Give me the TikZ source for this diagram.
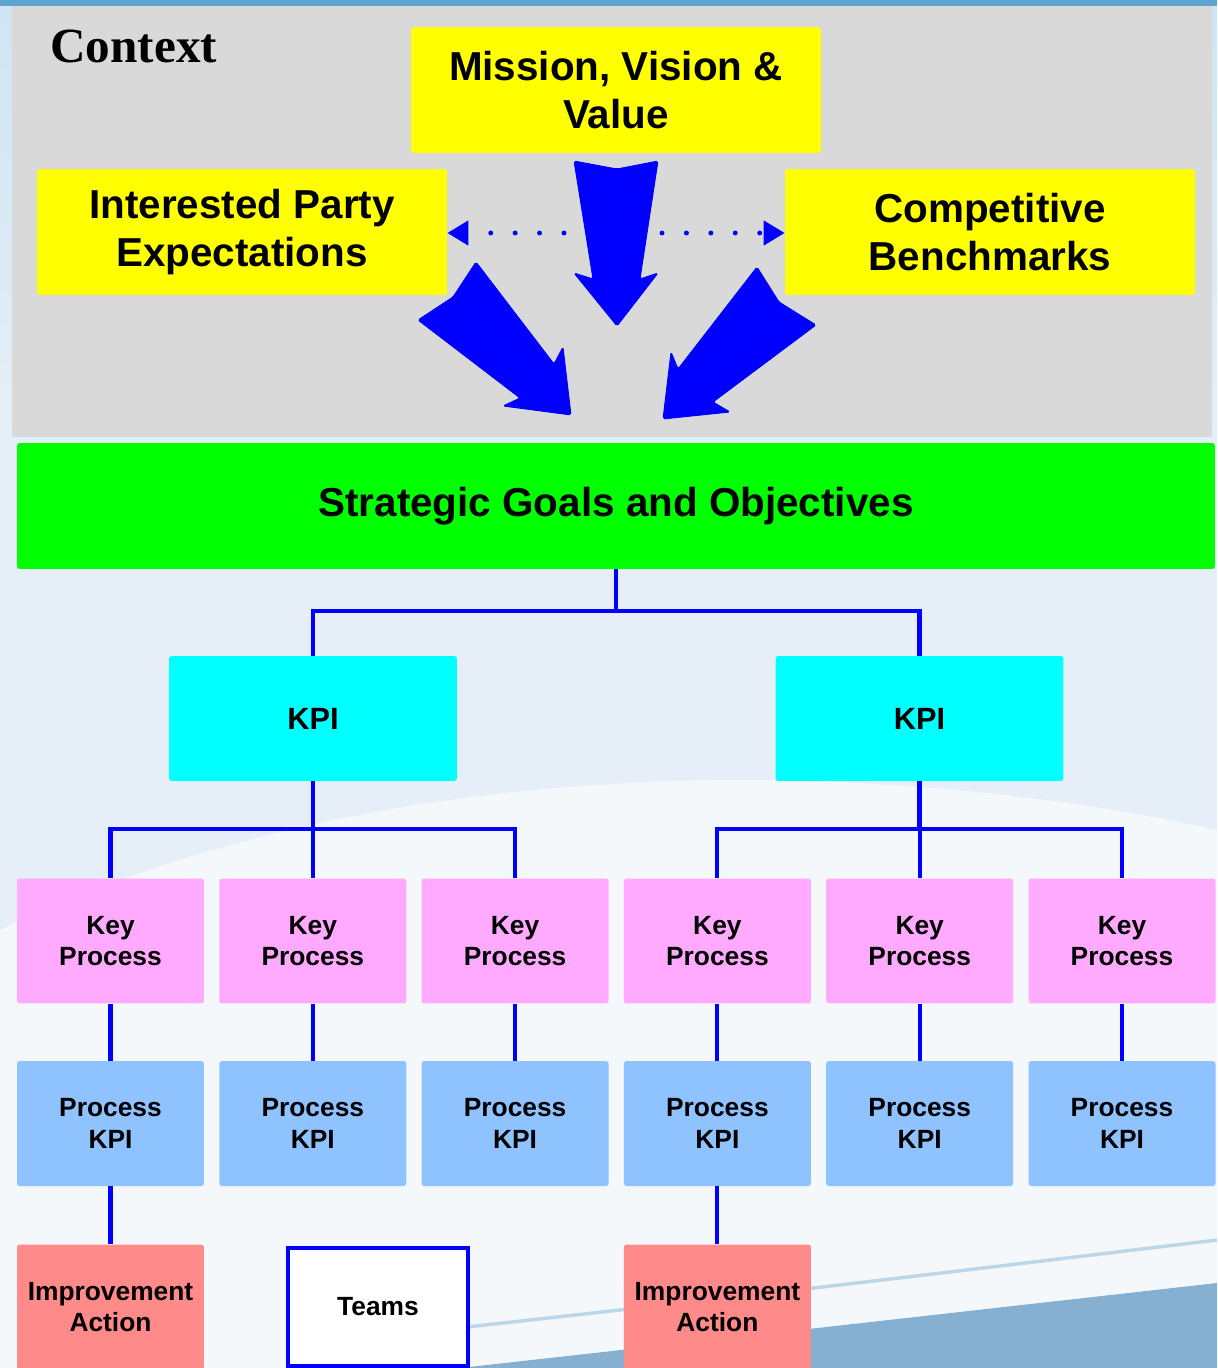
\documentclass[tikz,border=0pt]{standalone}
\usepackage{fontspec}
\setmainfont{Liberation Sans}
\newfontfamily\ctxfont{Liberation Serif}
\usetikzlibrary{calc}
\usetikzlibrary{arrows.meta}

\definecolor{skyback}{HTML}{E6EFF7}
\definecolor{skyleft}{HTML}{CFE5F4}
\definecolor{skytop}{HTML}{5DA4D0}
\definecolor{swoosh}{HTML}{86B0D2}
\definecolor{streak}{HTML}{BCD7E8}
\definecolor{ctxgrey}{HTML}{D9D9D9}
\definecolor{boxyellow}{HTML}{FFFF00}
\definecolor{boxgreen}{HTML}{00FF00}
\definecolor{boxcyan}{HTML}{00FFFF}
\definecolor{boxpink}{HTML}{FFAAFF}
\definecolor{boxsky}{HTML}{8FC3FF}
\definecolor{boxsalmon}{HTML}{FF8A8A}

\begin{document}
\begin{tikzpicture}[x=0.02cm, y=-0.02cm,
  box/.style={rounded corners=1.5pt, inner sep=0pt, align=center, font=\bfseries\fontsize{15}{18}\selectfont},
  bigbox/.style={box, minimum width=8.2cm, minimum height=2.52cm, font=\bfseries\fontsize{23}{27.5}\selectfont},
  kpibox/.style={box, fill=boxcyan, minimum width=5.76cm, minimum height=2.5cm, font=\bfseries\fontsize{17.5}{21}\selectfont},
  smallbox/.style={box, minimum width=3.74cm, minimum height=2.5cm},
  link/.style={blue, line width=2.3pt},
  bigarrow/.style={fill=blue, draw=blue, line width=.5pt, rounded corners=1pt},
  dots/.style={blue, line width=2.8pt, line cap=round, dash pattern=on 0pt off 13.9pt, -{Triangle[length=12pt,width=13.6pt]}}]

\useasboundingbox (0,0) rectangle (1217,1368);

% background
\fill[skyback] (0,0) rectangle (1217,1368);
\fill[top color=skyleft, bottom color=skyback] (0,0) rectangle (1217,450);
\fill[white, opacity=.6] (0,930) .. controls (400,740) and (900,760) .. (1217,830) -- (1217,1368) -- (0,1368) -- cycle;
\fill[skytop] (0,0) rectangle (1217,6);
\draw[streak, line width=2pt] (440,1330) .. controls (800,1290) .. (1217,1240);
\fill[swoosh] (460,1368) .. controls (800,1330) .. (1217,1283) -- (1217,1368) -- cycle;

% context
\fill[ctxgrey] (12,6) rectangle (1212,437);
\node[anchor=base west, inner sep=0pt, font=\ctxfont\bfseries\fontsize{28}{32}\selectfont] (ctx) at (50,63) {Context};

\node[bigbox, fill=boxyellow] (mission) at (616,90) {Mission, Vision \&\\Value};
\node[bigbox, fill=boxyellow] (party) at (242,232) {Interested Party\\Expectations};
\node[bigbox, fill=boxyellow] (bench) at (990,232) {Competitive\\Benchmarks};

\coordinate (dotL) at (564,233);
\coordinate (dotR) at (662,233);
\draw[dots] (dotL) -- (party.east |- dotL);
\draw[dots] (dotR) -- (bench.west |- dotR);

\filldraw[bigarrow] (574,161) -- (617,169) -- (658,161) -- (640,279) -- (658,273) -- (617,326) -- (574,273) -- (593,279) -- cycle;
\filldraw[bigarrow] (476,262) -- (554,364) -- (563,347) -- (571,415) -- (503,406) -- (520,398) -- (418,320) -- (453,297) -- cycle;
\filldraw[bigarrow] (757,267) -- (779,302) -- (816,325) -- (713,402) -- (730,412) -- (663,419) -- (671,352) -- (678,369) -- cycle;

% goals and kpis
\node[bigbox, fill=boxgreen, minimum width=23.96cm] (goals) at (616,506) {Strategic Goals and Objectives};
\node[kpibox] (kpiL) at (313,718.5) {KPI};
\node[kpibox] (kpiR) at (919.5,718.5) {KPI};

\coordinate (gsplit) at (616,611);
\draw[link] (goals.south) -- (gsplit) -| (kpiL.north);
\draw[link] (gsplit) -| (kpiR.north);

\foreach \i in {1,...,6} {
  \node[smallbox, fill=boxpink] (key\i) at ({110.5+202.3*(\i-1)},941) {Key\\Process};
  \node[smallbox, fill=boxsky] (pkpi\i) at ({110.5+202.3*(\i-1)},1123.5) {Process\\KPI};
  \draw[link] (key\i) -- (pkpi\i);
}

\coordinate (lsplit) at ($(kpiL.south)+(0,48)$);
\coordinate (rsplit) at ($(kpiR.south)+(0,48)$);
\draw[link] (kpiL.south) -- (lsplit) -| (key1.north);
\draw[link] (lsplit) -| (key2.north);
\draw[link] (lsplit) -| (key3.north);
\draw[link] (kpiR.south) -- (rsplit) -| (key4.north);
\draw[link] (rsplit) -| (key5.north);
\draw[link] (rsplit) -| (key6.north);

% actions
\node[smallbox, fill=boxsalmon] (imp1) at (110.5,1307) {Improvement\\Action};
\node[smallbox, fill=boxsalmon] (imp2) at (717.4,1307) {Improvement\\Action};
\node[smallbox, fill=white, draw=blue, line width=2.3pt, rounded corners=0pt, minimum width=3.6cm, minimum height=2.38cm] (teams) at (378,1307) {Teams};
\draw[link] (pkpi1) -- (imp1);
\draw[link] (pkpi4) -- (imp2);

\end{tikzpicture}
\end{document}
